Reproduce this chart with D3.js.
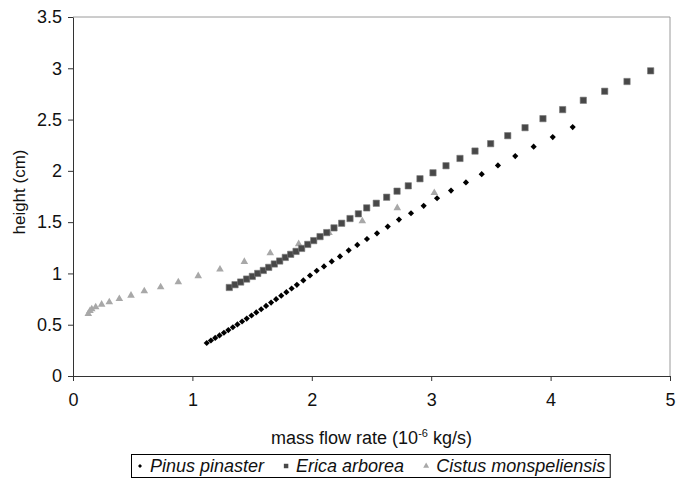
<!DOCTYPE html>
<html>
<head>
  <meta charset="utf-8">
  <title>Flame height vs mass flow rate</title>
  <style>
    body { margin: 0; background: #fff; }
    text { font-family: Arial, "Liberation Sans", sans-serif; }
  </style>
</head>
<body>
  <div id="chart"></div>
  <script src="https://d3js.org/d3.v7.min.js"></script>
  <script>

    // ---- data
    let pinusX = [1.120, 1.155, 1.191, 1.227, 1.264, 1.301, 1.339, 1.377, 1.416, 1.455, 1.495, 1.535, 1.576, 1.617, 1.659, 1.701, 1.744, 1.787, 1.831, 1.875, 1.929, 1.985, 2.041, 2.102, 2.167, 2.236, 2.309, 2.381, 2.462, 2.546, 2.636, 2.730, 2.831, 2.937, 3.049, 3.166, 3.291, 3.423, 3.559, 3.704, 3.858, 4.018, 4.185];
    let pinusY = [0.322, 0.346, 0.371, 0.396, 0.422, 0.448, 0.475, 0.503, 0.531, 0.560, 0.590, 0.620, 0.651, 0.683, 0.716, 0.749, 0.783, 0.817, 0.853, 0.889, 0.932, 0.980, 1.026, 1.068, 1.117, 1.166, 1.225, 1.278, 1.336, 1.391, 1.457, 1.525, 1.587, 1.659, 1.733, 1.808, 1.887, 1.968, 2.053, 2.144, 2.236, 2.329, 2.427];

    let ericaX = [1.309, 1.357, 1.404, 1.454, 1.502, 1.547, 1.594, 1.639, 1.686, 1.731, 1.778, 1.823, 1.868, 1.915, 1.966, 2.016, 2.069, 2.125, 2.186, 2.250, 2.320, 2.390, 2.460, 2.540, 2.627, 2.714, 2.808, 2.906, 3.015, 3.124, 3.241, 3.367, 3.498, 3.641, 3.786, 3.936, 4.101, 4.274, 4.453, 4.640, 4.838];
    let ericaY = [0.863, 0.890, 0.916, 0.945, 0.971, 1.000, 1.029, 1.059, 1.092, 1.121, 1.156, 1.186, 1.215, 1.244, 1.283, 1.320, 1.359, 1.398, 1.444, 1.489, 1.535, 1.581, 1.639, 1.684, 1.743, 1.802, 1.854, 1.923, 1.981, 2.050, 2.121, 2.193, 2.265, 2.343, 2.421, 2.509, 2.597, 2.688, 2.776, 2.871, 2.975];

    let cistusX = [0.128, 0.142, 0.157, 0.190, 0.240, 0.304, 0.388, 0.486, 0.597, 0.734, 0.882, 1.049, 1.231, 1.435, 1.652, 1.890, 2.144, 2.423, 2.716, 3.026];
    let cistusY = [0.606, 0.635, 0.652, 0.672, 0.697, 0.720, 0.753, 0.785, 0.828, 0.867, 0.916, 0.975, 1.039, 1.114, 1.199, 1.287, 1.395, 1.510, 1.638, 1.785];

    let seriesNames = ['Pinus pinaster', 'Erica arborea', 'Cistus monspeliensis'];
    let xTicks = [0, 1, 2, 3, 4, 5];
    let yTicks = [0, 0.5, 1, 1.5, 2, 2.5, 3, 3.5];

    function translate(x, y) {
      return 'translate(' + x + ',' + y + ')';
    }

    let svgWidth = 676;
    let svgHeight = 479;
    let margin = {top: 17, right: 6, bottom: 103, left: 73};
    let width = svgWidth - margin.left - margin.right;
    let height = svgHeight - margin.top - margin.bottom;

    let svg = d3.select('#chart')
      .append('svg')
      .attr('width', svgWidth)
      .attr('height', svgHeight);

    let g = svg.append('g')
      .attr('transform', translate(margin.left, margin.top));

    let x = d3.scaleLinear().domain([0, 5]).range([0, width]);
    let y = d3.scaleLinear().domain([0, 3.5]).range([height, 0]);

    // plot frame (top / right)
    g.append('path')
      .attr('d', 'M0,0H' + width + 'V' + height)
      .attr('fill', 'none')
      .attr('stroke', '#9a9a9a')
      .attr('stroke-width', 1);

    let xAxis = g.append('g')
      .attr('transform', translate(0, height))
      .call(d3.axisBottom(x).tickValues(xTicks).tickFormat(d => String(d))
        .tickSize(5).tickPadding(12).tickSizeOuter(0));

    let yAxis = g.append('g')
      .call(d3.axisLeft(y).tickValues(yTicks).tickFormat(d => String(d))
        .tickSize(5).tickPadding(6).tickSizeOuter(0));

    [xAxis, yAxis].forEach(function(a) {
      a.selectAll('path, line').attr('stroke', '#333');
      a.selectAll('text')
        .attr('fill', '#111')
        .style('font-size', '18px')
        .style('font-family', 'Arial, "Liberation Sans", sans-serif');
    });

    // series
    let pinus = pinusX.map((v, i) => ({x: v, y: pinusY[i]}));
    let erica = ericaX.map((v, i) => ({x: v, y: ericaY[i]}));
    let cistus = cistusX.map((v, i) => ({x: v, y: cistusY[i]}));

    let triangle = d3.symbol().type(d3.symbolTriangle).size(25);
    let square = d3.symbol().type(d3.symbolSquare).size(40);
    let diamond = d3.symbol().type(d3.symbolSquare).size(19);

    g.selectAll('.cistus')
      .data(cistus)
      .enter()
      .append('path')
      .attr('class', 'cistus')
      .attr('d', triangle)
      .attr('transform', d => translate(x(d.x), y(d.y)))
      .attr('fill', '#a8a8a8');

    g.selectAll('.erica')
      .data(erica)
      .enter()
      .append('path')
      .attr('class', 'erica')
      .attr('d', square)
      .attr('transform', d => translate(x(d.x), y(d.y)))
      .attr('fill', '#484848')
      .attr('stroke', '#7a7a7a')
      .attr('stroke-width', 0.6);

    g.selectAll('.pinus')
      .data(pinus)
      .enter()
      .append('path')
      .attr('class', 'pinus')
      .attr('d', diamond)
      .attr('transform', d => translate(x(d.x), y(d.y)) + ' rotate(45)')
      .attr('fill', '#000');

    // axis titles
    let xTitle = svg.append('text')
      .attr('x', margin.left + width / 2)
      .attr('y', 444)
      .attr('text-anchor', 'middle')
      .style('font-size', '18px')
      .attr('fill', '#111');
    xTitle.append('tspan').text('mass flow rate (10');
    xTitle.append('tspan').text('-6').style('font-size', '11px').attr('dy', -7);
    xTitle.append('tspan').text(' kg/s)').attr('dy', 7);

    svg.append('text')
      .attr('transform', translate(19, 192) + ' rotate(-90)')
      .attr('text-anchor', 'middle')
      .attr('dy', '0.35em')
      .style('font-size', '17px')
      .attr('fill', '#111')
      .text('height (cm)');

    // legend
    let legend = svg.append('g');
    let legendBox = legend.append('rect')
      .attr('fill', '#fff')
      .attr('stroke', '#000')
      .attr('stroke-width', 1);

    let legendSymbols = [
      d3.symbol().type(d3.symbolSquare).size(8),
      d3.symbol().type(d3.symbolSquare).size(20),
      d3.symbol().type(d3.symbolTriangle).size(15)
    ];
    let legendColors = ['#000', '#484848', '#a8a8a8'];
    let legendRot = [' rotate(45)', '', ''];

    let lx = 140;
    let ly = 466;
    seriesNames.forEach(function(name, i) {
      legend.append('path')
        .attr('d', legendSymbols[i])
        .attr('transform', translate(lx, ly) + legendRot[i])
        .attr('fill', legendColors[i]);
      let t = legend.append('text')
        .attr('x', lx + 10)
        .attr('y', ly)
        .attr('dy', '0.35em')
        .style('font-size', '18px')
        .style('font-style', 'italic')
        .attr('fill', '#111')
        .text(name);
      lx = lx + 10 + t.node().getComputedTextLength() + 22;
    });

    legendBox
      .attr('x', 131.5)
      .attr('y', 454.5)
      .attr('width', lx - 22 + 5 - 131.5)
      .attr('height', 23);

  </script>
</body>
</html>
